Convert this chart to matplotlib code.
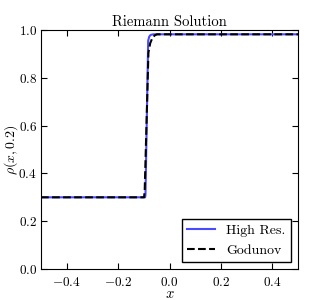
import matplotlib
matplotlib.use('Agg')
import matplotlib.pyplot as plt

# High resolution solution
x_high = [-0.5, -0.095, -0.0935, -0.083, -0.079, -0.074, -0.068, -0.062, 0.5]
rho_high = [0.3, 0.3, 0.31, 0.955, 0.972, 0.979, 0.981, 0.982, 0.982]

# Godunov solution
x_god = [-0.5, -0.099, -0.0965, -0.082, -0.075, -0.067, -0.058, -0.049, 0.5]
rho_god = [0.3, 0.3, 0.33, 0.905, 0.945, 0.966, 0.977, 0.982, 0.982]

plt.rcParams['font.family'] = 'serif'
plt.rcParams['font.serif'] = ['cmr10']
plt.rcParams['mathtext.fontset'] = 'cm'
plt.rcParams['axes.formatter.use_mathtext'] = True
plt.rcParams['axes.unicode_minus'] = True

fig = plt.figure(figsize=(3.32, 3.0), dpi=100)
ax = fig.add_axes([0.1235, 0.1033, 0.7741, 0.7967])

ax.plot(x_high, rho_high, color='#4a4aff', lw=1.5, label='High Res.')
ax.plot(x_god, rho_god, 'k--', lw=1.5, label='Godunov')

ax.set_xlim(-0.5, 0.5)
ax.set_ylim(0.0, 1.0)
ax.set_xticks([-0.4, -0.2, 0.0, 0.2, 0.4])
ax.set_yticks([0.0, 0.2, 0.4, 0.6, 0.8, 1.0])
ax.tick_params(direction='in', top=True, right=True, labelsize=9.5, length=4)
ax.tick_params(axis='y', pad=3)
ax.tick_params(axis='x', pad=5)

ax.set_xlabel('$x$', fontsize=10.5, labelpad=-1)
ax.set_ylabel(r'$\rho(x,0.2)$', fontsize=10)
ax.yaxis.set_label_coords(-0.082, 0.5)
ax.set_title('Riemann Solution', fontsize=10.5, pad=3)

leg = ax.legend(loc='lower right', fontsize=10, fancybox=False, framealpha=1,
                edgecolor='k', handlelength=2.0, borderaxespad=0.5)
leg.get_frame().set_linewidth(1.0)

fig.savefig('out.png', dpi=100)
